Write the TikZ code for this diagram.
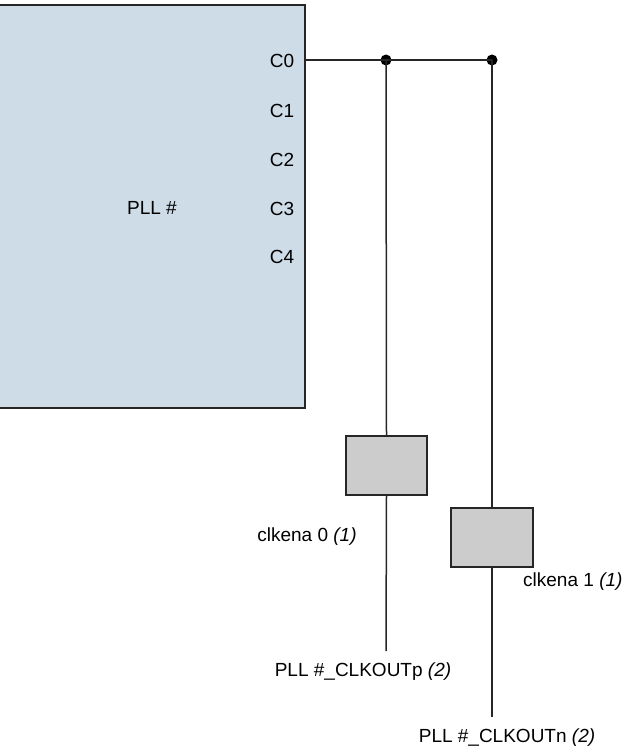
\documentclass[tikz,border=0pt]{standalone}
\usepackage{fontspec}
\setmainfont{Liberation Sans}
\begin{document}
\begin{tikzpicture}[x=1pt,y=-1pt,
  lbl/.style={inner sep=0pt,font=\fontsize{19}{22}\selectfont},
  wire/.style={draw=black!85,line width=1.5pt},
  dotj/.style={circle,fill=black,inner sep=0pt,minimum size=11pt},
  gatebox/.style={draw=black!85,line width=1.6pt,fill=black!20,minimum width=81pt,minimum height=59pt,inner sep=0pt},
  pllbox/.style={draw=black!85,line width=1.6pt,fill={rgb,255:red,206;green,220;blue,232},inner sep=0pt}]
\useasboundingbox (0,0) rectangle (621,752);
\clip (0,0) rectangle (621,752);
\node[pllbox,minimum width=335pt,minimum height=403pt] (pll) at (137.5,206.5) {};
\node[lbl] (plllbl) at (152,208) {PLL \#};
\node[lbl] (c0) at (282,61) {C0};
\node[lbl] (c1) at (282,111) {C1};
\node[lbl] (c2) at (282,160) {C2};
\node[lbl] (c3) at (282,209) {C3};
\node[lbl] (c4) at (282,257) {C4};
\coordinate (p0) at (305,60);
\node[dotj] (j1) at (386,60) {};
\node[dotj] (j2) at (492,60) {};
\node[gatebox] (b0) at (386.5,465.5) {};
\node[gatebox,minimum width=82pt] (b1) at (492,537.5) {};
\coordinate (e0) at (386,651);
\coordinate (e1) at (492,717);
\draw[wire] (p0) -- (j1.center) -- (j2.center);
\draw[wire] (j1.center) -- (b0.north);
\draw[wire] (b0.south) -- (e0);
\draw[wire] (j2.center) -- (b1.north);
\draw[wire] (b1.south) -- (e1);
\node[lbl] (k0) at (307,537) {clkena 0 \textit{(1)}};
\node[lbl,anchor=west] (k1) at (523,582) {clkena 1 \textit{(1)}};
\node[lbl] (o0) at (363,672) {PLL \#\_CLKOUTp \textit{(2)}};
\node[lbl] (o1) at (507,738) {PLL \#\_CLKOUTn \textit{(2)}};
\end{tikzpicture}
\end{document}
